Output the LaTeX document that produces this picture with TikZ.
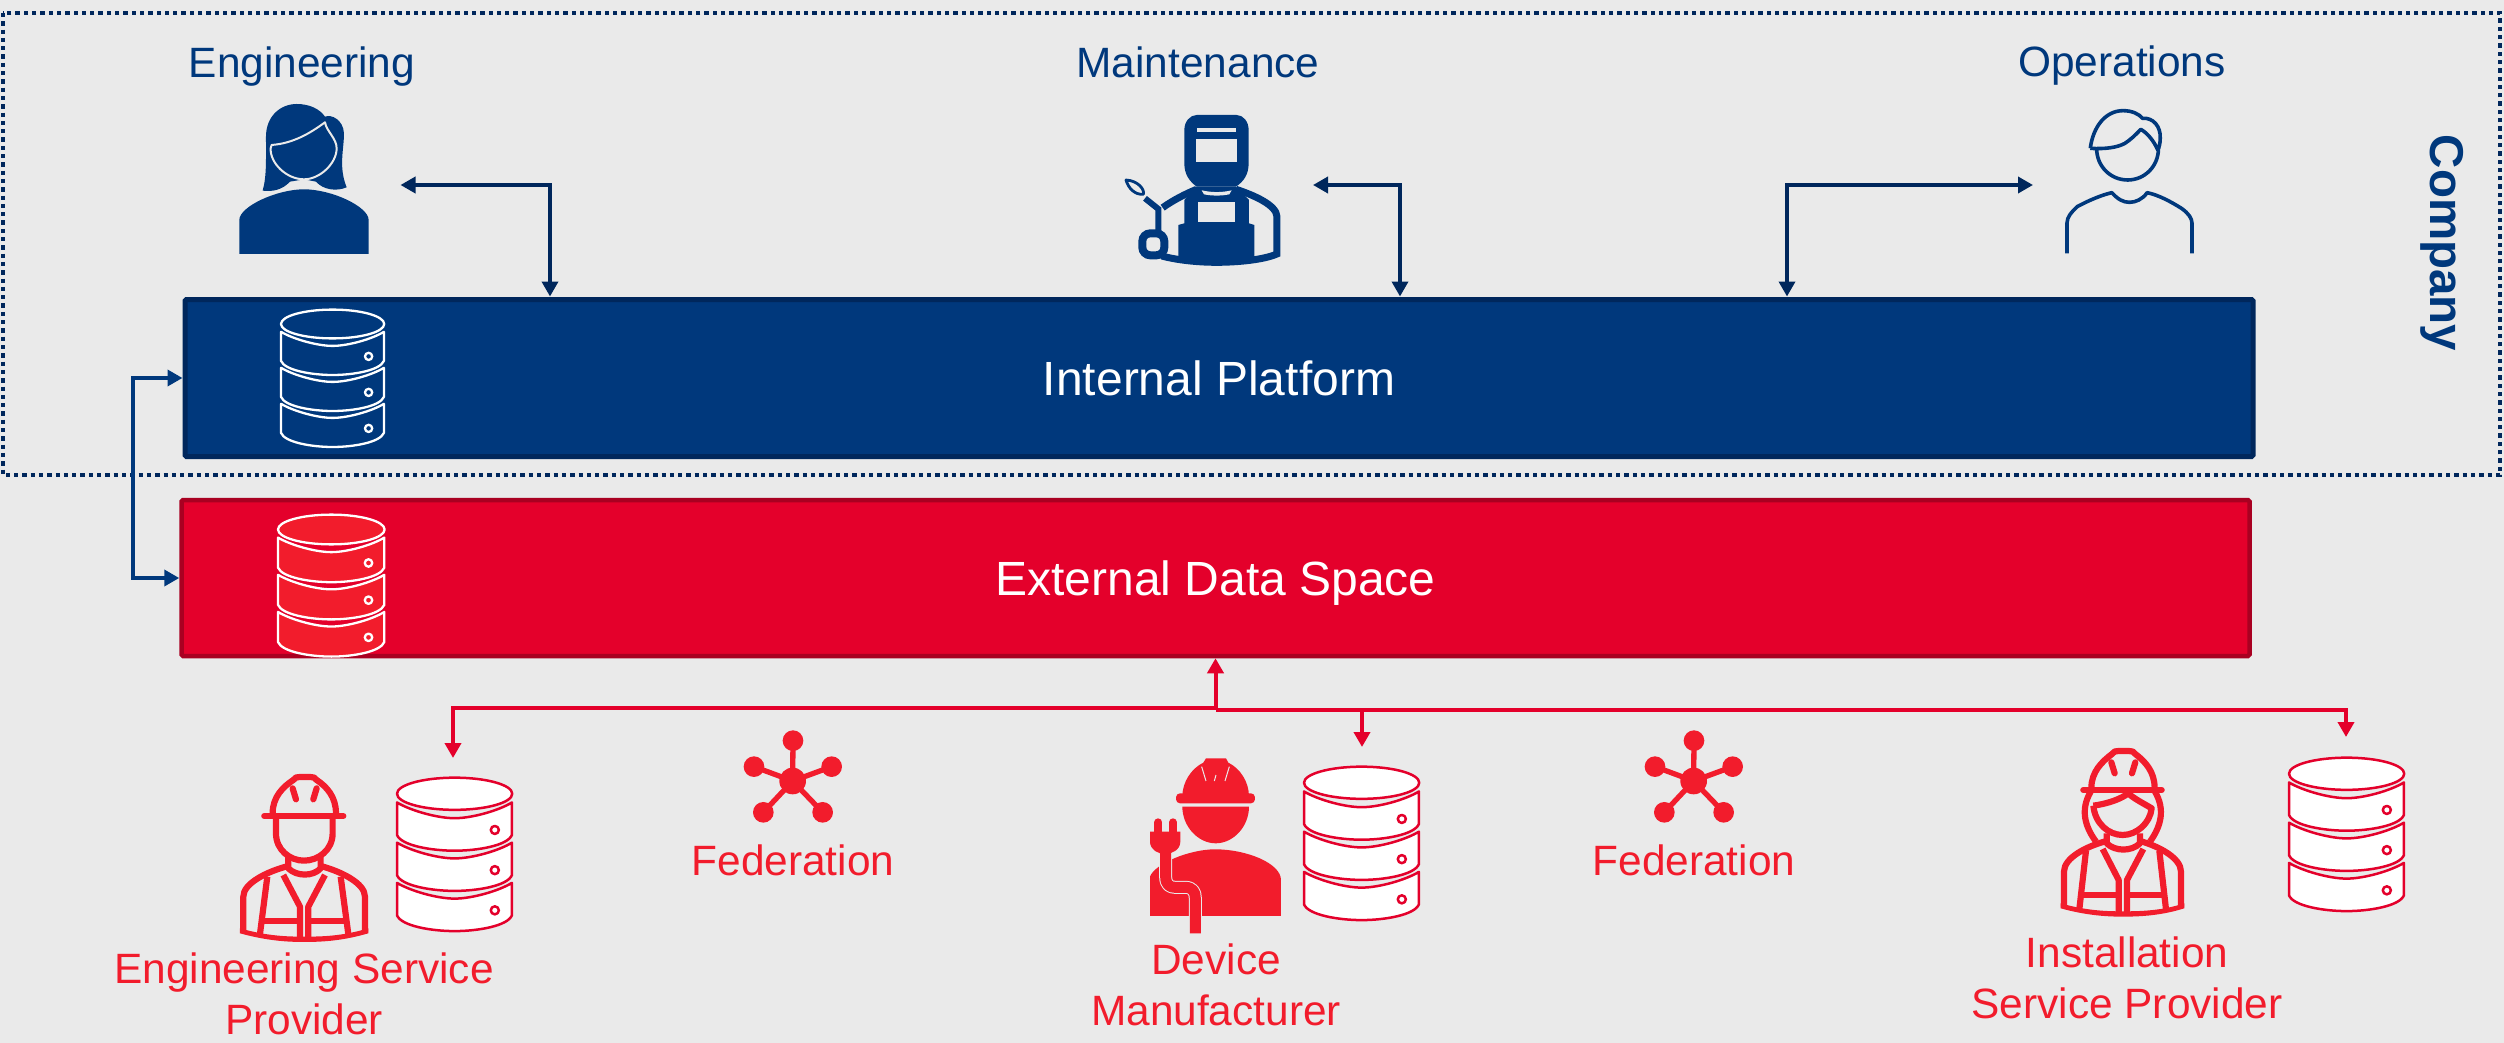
\documentclass[tikz,border=0pt]{standalone}
\usepackage{fontspec}
\setmainfont{Liberation Sans}
\usetikzlibrary{arrows.meta}
\definecolor{bg}{HTML}{EAEAEA}
\definecolor{navy}{HTML}{00387C}
\definecolor{navydark}{HTML}{00275C}
\definecolor{redbox}{HTML}{E4002B}
\definecolor{reddark}{HTML}{A90021}
\definecolor{redicon}{HTML}{F21C2C}
\tikzset{
  x=1pt,y=-1pt,
  lbl/.style={inner sep=0pt,outer sep=0pt,anchor=base,align=center},
  navytext/.style={lbl,text=navy,font=\fontsize{42.4}{51}\selectfont},
  redtext/.style={lbl,text=redicon,font=\fontsize{42.4}{51}\selectfont},
  platform/.style={draw=navydark,fill=navy,line width=5pt,rounded corners=1.5pt,text=white,inner sep=0pt,minimum width=2068pt,minimum height=157pt,text height=34pt,text depth=0pt,font=\fontsize{48}{56}\selectfont},
  dataspace/.style={draw=reddark,fill=redbox,line width=4.5pt,rounded corners=1.5pt,text=white,inner sep=0pt,minimum width=2068pt,minimum height=156pt,text height=34pt,text depth=0pt,font=\fontsize{48}{56}\selectfont},
  bluearrow/.style={draw=navydark,line width=3.6pt,{Triangle[length=15pt,width=16pt]}-{Triangle[length=15pt,width=16pt]}},
  sidearrow/.style={bluearrow,draw=navy},
  redarrow/.style={draw=redbox,line width=4pt,-{Triangle[length=15pt,width=16pt]}},
  redup/.style={draw=redbox,line width=4pt,{Triangle[length=15pt,width=16pt]}-},
  vest/.style={draw=redicon,line width=6.2pt,line join=round,fill=none},
}
\newcommand{\dbicon}[6]{%
\begin{scope}[shift={(#1,#2)},scale=#3,draw=#4,fill=#5,line width=#6,line join=round]
  \filldraw (172,50) ellipse [x radius=172,y radius=48];
  \foreach \o in {0,120,240}{
    \filldraw (0,76+\o) .. controls (40,100+\o) and (120,123+\o) .. (172,123+\o)
      .. controls (224,123+\o) and (304,100+\o) .. (343,76+\o)
      -- (343,173+\o) .. controls (330,205+\o) and (240,220+\o) .. (172,220+\o)
      .. controls (104,220+\o) and (13,205+\o) .. (0,173+\o) -- cycle;
    \draw (292,158+\o) circle (12);
  }
\end{scope}}
\newcommand{\fedicon}[2]{%
\begin{scope}[shift={(#1,#2)},scale=0.3333,draw=redicon,fill=redicon,line width=5.3pt]
  \foreach \p in {(339,92),(222,170),(455,170),(250,307),(428,307)}{
    \draw (338,213) -- \p;
    \fill \p circle (31);
  }
  \fill (338,213) circle (40);
\end{scope}}
\begin{document}
\begin{tikzpicture}
\useasboundingbox (0,0) rectangle (2504,1043);
\fill[bg] (0,0) rectangle (2504,1043);
% company frame
\draw[navydark,line width=4pt,dash pattern=on 4.3pt off 4pt] (3,13) rectangle (2500,475);
% platforms
\node[platform] (internal) at (1219,378) {Internal Platform};
\node[dataspace] (external) at (1215.5,578) {External Data Space};
% labels
\node[navytext] (lblEng) at (302,78) {Engineering};
\node[navytext] (lblMnt) at (1198,78) {Maintenance};
\node[navytext] (lblOps) at (2122,77) {Operations};
\node[lbl,rotate=-90,text=navy,font=\fontsize{47.5}{56}\selectfont\bfseries] (lblCompany) at (2430,243) {Company};
\node[redtext] (lblFedA) at (793,875) {Federation};
\node[redtext] (lblFedB) at (1694,875) {Federation};
\node[redtext] (lblEsp) at (304,1034) {Engineering Service\\Provider};
\node[redtext] (lblDev) at (1216,1025) {Device\\Manufacturer};
\node[redtext] (lblIsp) at (2127,1018) {Installation\\Service Provider};
% connector ends
\coordinate (engTip) at (400.5,185);
\coordinate (engIn) at (550,296.5);
\coordinate (mntTip) at (1313,185);
\coordinate (mntIn) at (1400,296.5);
\coordinate (opsTip) at (2033,185);
\coordinate (opsIn) at (1787,296.5);
\coordinate (leftBus) at (133,478);
\coordinate (busL) at (1215.5,708);
\coordinate (busR) at (1215.5,710);
\coordinate (espTip) at (453,758);
\coordinate (devTip) at (1362,747);
\coordinate (ispTip) at (2346,737);
% connectors
\draw[bluearrow] (engTip) -| (engIn);
\draw[bluearrow] (mntTip) -| (mntIn);
\draw[bluearrow] (opsTip) -| (opsIn);
\draw[sidearrow] (internal.west) -| (leftBus) |- (external.west);
\draw[redup] (external.south) -- (busL);
\draw[redarrow] (busL) -| (espTip);
\draw[redarrow] (busR) -| (devTip);
\draw[redarrow] (busR) -| (ispTip);
% databases
\dbicon{281}{309}{0.30}{white}{navy}{2.3pt}
\dbicon{278}{514}{0.31}{white}{redicon}{2.3pt}
\dbicon{397}{777}{0.335}{redbox}{white}{2.5pt}
\dbicon{1304}{766}{0.335}{redbox}{white}{2.5pt}
\dbicon{2289}{757}{0.335}{redbox}{white}{2.5pt}
% federation
\fedicon{680}{710}
\fedicon{1581}{710}
% engineering woman
\begin{scope}[shift={(150,0)},scale=0.3333]
  \fill[navy] (338,572) .. controls (350,530) and (348,480) .. (348,410)
    .. controls (348,350) and (390,312) .. (440,312)
    .. controls (480,312) and (510,328) .. (525,350)
    .. controls (545,342) and (580,360) .. (582,400)
    .. controls (582,450) and (565,500) .. (590,562)
    .. controls (560,575) and (520,570) .. (498,545)
    -- (462,538) -- (420,545) .. controls (395,572) and (365,575) .. (338,572) -- cycle;
  \draw[bg,line width=2pt,line join=round] (365,435) .. controls (430,430) and (480,400) .. (525,367)
    .. controls (530,395) and (560,415) .. (560,445)
    .. controls (560,490) and (510,538) .. (462,538)
    .. controls (410,538) and (360,490) .. (362,445) -- cycle;
  \fill[navy] (268,762) -- (268,660) .. controls (268,620) and (380,568) .. (462,568)
    .. controls (545,568) and (656,620) .. (656,660) -- (656,762) -- cycle;
\end{scope}
% welder
\begin{scope}[shift={(1050,60)},scale=0.3333]
  \fill[navy] (403,210) .. controls (403,185) and (420,165) .. (440,165) -- (560,165)
    .. controls (580,165) and (596,185) .. (596,210) -- (596,310)
    .. controls (596,345) and (580,365) .. (558,380) -- (440,380)
    .. controls (420,365) and (403,345) .. (403,310) -- cycle;
  \fill[bg] (438,237) rectangle (560,305);
  \fill[bg] (440,205) rectangle (558,216);
  \fill[navy] (403,420) -- (440,380) -- (558,380) -- (597,420) -- (597,490) -- (613,495)
    -- (613,600) -- (385,600) -- (385,495) -- (403,490) -- cycle;
  \fill[bg] (443,425) rectangle (555,485);
  \fill[bg] (455,391) .. controls (485,398) and (515,398) .. (545,391) -- (538,403)
    .. controls (515,408) and (485,408) .. (462,403) -- cycle;
  \draw[navy,line width=7pt] (338,443) .. controls (370,420) and (410,400) .. (440,388);
  \draw[navy,line width=7pt] (558,388) .. controls (610,405) and (680,435) .. (681,470)
    -- (681,582) .. controls (640,600) and (560,607) .. (500,607)
    .. controls (440,607) and (380,600) .. (335,588);
  \draw[navy,line width=2.8pt,fill=bg,line join=round] (228,360) .. controls (265,362) and (285,390) .. (280,403)
    .. controls (255,405) and (235,385) .. (228,360) -- cycle;
  \draw[navy,line width=6pt] (285,415) -- (325,447) -- (325,520);
  \draw[navy,line width=8pt,rounded corners=8pt,fill=bg] (277,520) rectangle (343,586);
\end{scope}
% operations man
\begin{scope}[shift={(1950,60)},xscale=0.3533,yscale=0.3333,navy,line width=3.6pt,line join=round]
  \draw (397,265) .. controls (405,200) and (440,152) .. (490,152)
    .. controls (515,152) and (535,162) .. (545,175)
    .. controls (575,172) and (597,200) .. (595,235)
    .. controls (595,250) and (592,262) .. (588,270)
    .. controls (578,245) and (560,220) .. (540,208)
    .. controls (525,225) and (510,240) .. (495,250)
    .. controls (475,262) and (440,268) .. (397,265);
  \draw (415,265) .. controls (415,320) and (455,360) .. (503,360)
    .. controls (550,360) and (590,320) .. (590,265);
  \draw (331,580) -- (331,490) .. controls (331,470) and (345,455) .. (360,440)
    .. controls (395,420) and (430,405) .. (458,398)
    .. controls (475,418) and (490,427) .. (508,427)
    .. controls (525,427) and (545,418) .. (558,398)
    .. controls (590,405) and (625,425) .. (655,445)
    .. controls (675,460) and (685,475) .. (685,490) -- (685,580);
\end{scope}
% engineering service provider
\begin{scope}[shift={(80,680)},scale=0.3333]
  \draw[vest,line cap=round] (553,408) -- (790,408);
  \draw[vest] (578,400) .. controls (578,350) and (610,320) .. (640,300)
    .. controls (645,292) and (650,291) .. (660,291) -- (690,291)
    .. controls (700,291) and (705,292) .. (710,300)
    .. controls (740,320) and (768,350) .. (768,400);
  \draw[vest,line cap=round] (638,325) -- (648,358);
  \draw[vest,line cap=round] (710,325) -- (700,358);
  \draw[vest] (588,415) -- (588,460) .. controls (588,510) and (630,542) .. (672,542)
    .. controls (715,542) and (758,510) .. (758,460) -- (758,415);
  \draw[vest] (625,530) -- (625,565) .. controls (650,590) and (700,590) .. (722,565) -- (722,530);
  \draw[vest] (625,558) .. controls (560,575) and (490,610) .. (490,650) -- (490,755);
  \draw[vest] (722,558) .. controls (785,575) and (855,610) .. (855,650) -- (855,755);
  \fill[redicon] (480,745) .. controls (560,768) and (620,770) .. (672,770)
    .. controls (730,770) and (790,768) .. (865,745) -- (865,760)
    .. controls (790,782) and (730,786) .. (672,786)
    .. controls (620,786) and (560,782) .. (480,760) -- cycle;
  \draw[vest] (562,590) -- (540,762);
  \draw[vest] (782,590) -- (805,762);
  \draw[vest] (610,585) -- (660,680) -- (660,772);
  \draw[vest] (735,585) -- (685,680) -- (685,772);
  \draw[vest] (545,722) -- (655,722);
  \draw[vest] (690,722) -- (800,722);
\end{scope}
% device manufacturer
\begin{scope}[shift={(1100,650)},scale=0.3333]
  \fill[redicon] (247,440) .. controls (247,395) and (275,355) .. (310,338) -- (318,325) -- (378,325)
    -- (385,338) .. controls (420,355) and (447,395) .. (447,440) -- cycle;
  \fill[redicon,rounded corners=4pt] (228,430) rectangle (465,460);
  \fill[redicon] (247,470) -- (447,470) .. controls (447,530) and (400,580) .. (347,580)
    .. controls (295,580) and (247,530) .. (247,470) -- cycle;
  \draw[bg,line width=1pt] (305,350) -- (318,393);
  \draw[bg,line width=1pt] (388,350) -- (375,393);
  \draw[bg,line width=1pt] (348,375) -- (343,393);
  \fill[redicon] (150,798) -- (150,680) .. controls (165,640) and (270,598) .. (345,598)
    .. controls (440,598) and (543,640) .. (543,690) -- (543,798) -- cycle;
  \draw[bg,line width=13pt,line join=round] (197,600) -- (197,680) .. controls (197,705) and (210,712) .. (225,712) -- (255,712)
    .. controls (278,712) and (286,725) .. (286,745) -- (286,798);
  \draw[redicon,line width=11pt,line join=round] (197,600) -- (197,680) .. controls (197,705) and (210,712) .. (225,712) -- (255,712)
    .. controls (278,712) and (286,725) .. (286,745) -- (286,850);
  \fill[redicon] (150,545) -- (241,545) -- (241,575) .. controls (241,600) and (215,612) .. (195,612)
    .. controls (175,612) and (150,600) .. (150,575) -- cycle;
  \draw[redicon,line width=8pt,line cap=round] (175,517) -- (175,550);
  \draw[redicon,line width=8pt,line cap=round] (219,517) -- (219,550);
\end{scope}
% installation service provider
\begin{scope}[shift={(2000,680)},scale=0.3333]
  \draw[vest,line cap=round] (250,330) -- (485,330);
  \draw[vest] (274,325) .. controls (274,275) and (306,245) .. (336,222)
    .. controls (341,214) and (346,213) .. (356,213) -- (386,213)
    .. controls (396,213) and (401,214) .. (406,222)
    .. controls (436,245) and (464,275) .. (464,325);
  \draw[vest,line cap=round] (334,247) -- (344,280);
  \draw[vest,line cap=round] (406,247) -- (396,280);
  \draw[vest] (272,335) .. controls (240,390) and (255,440) .. (288,485);
  \draw[vest] (465,335) .. controls (497,390) and (482,440) .. (450,485);
  \draw[vest] (280,377) .. controls (330,370) and (365,355) .. (385,340)
    .. controls (400,355) and (430,370) .. (455,385)
    .. controls (450,430) and (410,465) .. (368,465)
    .. controls (325,465) and (285,430) .. (280,377);
  \draw[vest] (320,460) -- (320,490) .. controls (345,515) and (395,515) .. (420,490) -- (420,460);
  \draw[vest] (320,483) .. controls (255,500) and (192,535) .. (192,575) -- (192,680);
  \draw[vest] (420,483) .. controls (480,500) and (543,535) .. (543,575) -- (543,680);
  \fill[redicon] (182,670) .. controls (258,692) and (318,694) .. (368,694)
    .. controls (426,694) and (486,692) .. (553,670) -- (553,685)
    .. controls (486,706) and (426,710) .. (368,710)
    .. controls (318,710) and (258,706) .. (182,685) -- cycle;
  \draw[vest] (258,512) -- (238,688);
  \draw[vest] (478,512) -- (498,688);
  \draw[vest] (308,507) -- (356,600) -- (356,696);
  \draw[vest] (430,507) -- (381,600) -- (381,696);
  \draw[vest] (245,645) -- (351,645);
  \draw[vest] (386,645) -- (492,645);
\end{scope}
\end{tikzpicture}
\end{document}
